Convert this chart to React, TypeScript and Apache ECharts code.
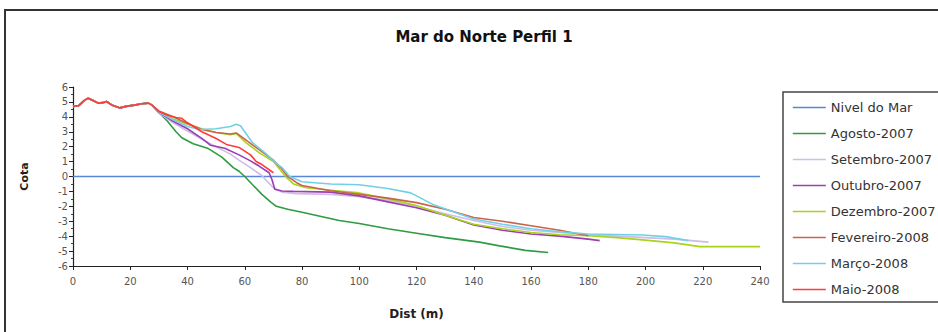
import React, { useEffect, useRef } from "react";
import * as echarts from "echarts";

const chartTitle = "Mar do Norte Perfil 1";
const xAxisName = "Dist (m)";
const yAxisName = "Cota";

// shared dune crest (all surveys coincide here)
const sharedCrest: number[][] = [
  [0, 4.7], [2, 4.75], [4, 5.1], [5.3, 5.25], [7, 5.1], [8.8, 4.92], [10.5, 4.95],
  [11.7, 5.03], [13.5, 4.8], [16.4, 4.6], [18.5, 4.7], [22, 4.8], [24, 4.88],
  [26.3, 4.92], [27.5, 4.8],
];

const nivelDoMar: number[][] = [[0, 0], [240, 0]];

const agosto2007: number[][] = [
  [30, 4.3], [33, 3.7], [36, 3.0], [38, 2.6], [42, 2.2], [47, 1.9], [52, 1.3],
  [56, 0.6], [58, 0.35], [60, 0.0], [63, -0.6], [66, -1.2], [69, -1.7], [71, -2.0],
  [75, -2.2], [80, -2.4], [93, -2.95], [100, -3.15], [110, -3.5], [120, -3.8],
  [130, -4.1], [142, -4.4], [149, -4.65], [158, -4.95], [166, -5.1],
];

const setembro2007: number[][] = [
  [30, 4.25], [35, 3.6], [40, 3.05], [45, 2.5], [50, 2.0], [55, 1.5], [58, 1.1],
  [62, 0.6], [66, 0.05], [70, -0.75], [73, -1.05], [78, -1.15], [90, -1.2],
  [100, -1.35], [110, -1.6], [120, -2.0], [130, -2.5], [140, -2.95], [150, -3.35],
  [160, -3.6], [170, -3.75], [180, -3.9], [190, -4.0], [200, -4.1], [210, -4.2],
  [222, -4.4],
];

const outubro2007: number[][] = [
  [30, 4.3], [35, 3.7], [40, 3.2], [45, 2.55], [48, 2.1], [53, 1.9], [58, 1.45],
  [62, 1.05], [65, 0.7], [68.5, 0.25], [69.5, -0.2], [70.5, -0.85], [73, -0.97],
  [77, -1.0], [90, -1.05], [100, -1.3], [110, -1.7], [120, -2.1], [130, -2.6],
  [140, -3.25], [150, -3.6], [160, -3.85], [170, -4.0], [180, -4.2], [184, -4.3],
];

const dezembro2007: number[][] = [
  [30, 4.35], [35, 3.85], [40, 3.5], [45, 3.2], [50, 2.95], [55, 2.8], [57, 2.88],
  [60.5, 2.25], [65, 1.6], [70, 1.0], [73, 0.3], [74.6, -0.08], [77, -0.5],
  [81.5, -0.75], [93, -0.97], [100, -1.1], [110, -1.5], [120, -1.95], [130, -2.6],
  [140, -3.2], [150, -3.5], [160, -3.75], [170, -3.9], [180, -3.97], [190, -4.1],
  [199, -4.25], [210, -4.45], [219, -4.7], [240, -4.7],
];

const fevereiro2008: number[][] = [
  [30, 4.4], [35, 4.0], [40, 3.55], [45, 3.15], [50, 2.95], [55, 2.85], [57, 2.92],
  [60, 2.5], [65, 1.8], [70, 1.1], [73, 0.5], [75, 0.0], [78, -0.4], [80, -0.6],
  [90, -0.95], [100, -1.2], [110, -1.45], [120, -1.75], [130, -2.2], [140, -2.75],
  [150, -3.0], [160, -3.3], [170, -3.6], [180, -3.97],
];

const marco2008: number[][] = [
  [30, 4.3], [35, 3.8], [40, 3.35], [44.3, 3.15], [50, 3.2], [55, 3.35], [57, 3.5],
  [58.5, 3.4], [62.8, 2.25], [67, 1.6], [71, 0.9], [73, 0.6], [75.7, 0.0],
  [80, -0.35], [90, -0.5], [100, -0.55], [110, -0.8], [118, -1.1], [122, -1.5],
  [126, -1.9], [140, -2.85], [150, -3.2], [160, -3.5], [170, -3.7], [180, -3.85],
  [199, -3.92], [208, -4.05], [215, -4.3],
];

const maio2008: number[][] = [
  [30, 4.35], [33, 4.1], [36, 3.95], [38, 3.9], [40, 3.6], [45, 3.0], [50, 2.55],
  [53.6, 2.15], [58, 1.95], [62, 1.45], [64, 1.0], [66, 0.8], [70, 0.25],
];

const seriesNames = [
  "Nivel do Mar", "Agosto-2007", "Setembro-2007", "Outubro-2007",
  "Dezembro-2007", "Fevereiro-2008", "Março-2008", "Maio-2008",
];
const seriesColors = [
  "#5a86d8", "#2f9b42", "#cdbde8", "#9c3db3",
  "#a8d41c", "#c8644c", "#72d0e6", "#ff3b3b",
];
const seriesData = [
  nivelDoMar,
  [...sharedCrest, ...agosto2007],
  [...sharedCrest, ...setembro2007],
  [...sharedCrest, ...outubro2007],
  [...sharedCrest, ...dezembro2007],
  [...sharedCrest, ...fevereiro2008],
  [...sharedCrest, ...marco2008],
  [...sharedCrest, ...maio2008],
];

const FONT = "DejaVu Sans";

export default function App() {
  const ref = useRef<HTMLDivElement>(null);
  useEffect(() => {
    document.body.style.margin = "0";
    const chart = echarts.init(ref.current!, null, { renderer: "svg" });
    chart.setOption({
      animation: false,
      backgroundColor: "#ffffff",
      title: {
        text: chartTitle,
        left: 479,
        top: 24,
        textAlign: "center",
        textStyle: { fontFamily: FONT, fontSize: 15, fontWeight: "bold", color: "#111" },
      },
      graphic: [
        {
          type: "rect",
          shape: { x: 5, y: 10, width: 960, height: 340 },
          style: { fill: "none", stroke: "#333", lineWidth: 2 },
          silent: true,
        },
      ],
      legend: {
        orient: "vertical",
        left: 783,
        top: 92,
        padding: [9, 12, 6, 9],
        itemWidth: 33,
        itemHeight: 14,
        itemGap: 13,
        borderColor: "#444",
        borderWidth: 1.5,
        itemStyle: { opacity: 0 },
        lineStyle: { width: 1.6 },
        textStyle: { fontFamily: FONT, fontSize: 13, color: "#333" },
        data: seriesNames,
      },
      grid: { left: 73, right: 178, top: 87, bottom: 66, outerBoundsMode: "none" },
      xAxis: {
        type: "value",
        min: 0,
        max: 240,
        interval: 20,
        name: xAxisName,
        nameLocation: "middle",
        nameGap: 42,
        nameTextStyle: { fontFamily: FONT, fontSize: 12, fontWeight: "bold", color: "#222" },
        axisLine: { onZero: false, lineStyle: { color: "#222", width: 1.2 } },
        axisTick: { show: true, length: 4, lineStyle: { color: "#222" } },
        axisLabel: { fontFamily: FONT, fontSize: 10, color: "#555", margin: 10 },
        splitLine: { show: false },
      },
      yAxis: {
        type: "value",
        min: -6,
        max: 6,
        interval: 1,
        name: yAxisName,
        nameLocation: "middle",
        nameGap: 43,
        nameRotate: 90,
        nameTextStyle: { fontFamily: FONT, fontSize: 11, fontWeight: "bold", color: "#222" },
        axisLine: { show: true, onZero: false, lineStyle: { color: "#222", width: 1.2 } },
        axisTick: { show: true, length: 4, lineStyle: { color: "#222" } },
        minorTick: { show: true, splitNumber: 2, length: 2, lineStyle: { color: "#444" } },
        axisLabel: { fontFamily: FONT, fontSize: 10, color: "#555", margin: 5 },
        splitLine: { show: false },
      },
      series: seriesNames.map((name, i) => ({
        name,
        type: "line",
        data: seriesData[i],
        symbol: "none",
        color: seriesColors[i],
        lineStyle: { width: i === 0 ? 1.5 : 1.6, color: seriesColors[i] },
        z: 2 + i,
      })),
    });
    return () => chart.dispose();
  }, []);
  return <div ref={ref} style={{ width: 938, height: 332 }} />;
}
